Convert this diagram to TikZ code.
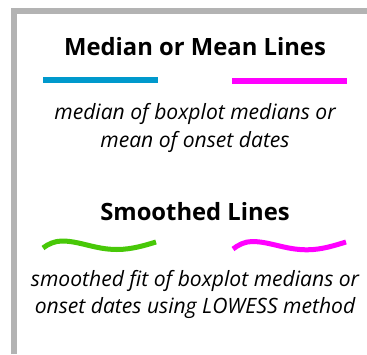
\documentclass[tikz,border=0pt]{standalone}
\usepackage{fontspec}
\setmainfont{Open Sans}
\definecolor{framegray}{RGB}{179,179,179}
\definecolor{medblue}{RGB}{0,153,204}
\definecolor{mag}{RGB}{255,0,255}
\definecolor{smgreen}{RGB}{72,200,8}
\begin{document}
\begin{tikzpicture}[x=1pt,y=-1pt,
  title/.style={anchor=base,font=\fontsize{23.8}{28}\selectfont\bfseries,inner sep=0pt},
  desc/.style={anchor=base,font=\fontsize{21.1}{25}\selectfont\itshape,inner sep=0pt},
  straight/.style={line width=6pt},
  wavy/.style={line width=5pt}]
\useasboundingbox (0,0) rectangle (367,354);
\fill[white] (0,0) rectangle (367,354);
\coordinate (fb) at (14,354);
\coordinate (fc) at (14,11);
\coordinate (fr) at (367,11);
\draw[framegray,line width=6pt,miter limit=10] (fb) -- (fc) -- (fr);
\node[title] (t1) at (195,55) {Median or Mean Lines};
\coordinate (b1) at (43,80); \coordinate (b2) at (158,80);
\draw[straight,medblue] (b1) -- (b2);
\coordinate (m1) at (232,81); \coordinate (m2) at (347,81);
\draw[straight,mag] (m1) -- (m2);
\node[desc] (d1) at (195,119) {median of boxplot medians or};
\node[desc] (d2) at (195,147) {mean of onset dates};
\node[title] (t2) at (195,220) {Smoothed Lines};
\coordinate (g0) at (43,248); \coordinate (g1) at (62,241);
\coordinate (g2) at (117,249.5); \coordinate (g3) at (156,242);
\draw[wavy,smgreen] (g0) .. controls (48,244) and (55,241) .. (g1)
  .. controls (80,241) and (95,249.5) .. (g2)
  .. controls (132,249.5) and (146,245) .. (g3);
\coordinate (h0) at (233,249); \coordinate (h1) at (252,241.5);
\coordinate (h2) at (307,249.8); \coordinate (h3) at (346,242);
\draw[wavy,mag] (h0) .. controls (238,245) and (245,241.5) .. (h1)
  .. controls (270,241.5) and (285,249.8) .. (h2)
  .. controls (322,249.8) and (336,245) .. (h3);
\node[desc] (d3) at (195,286) {smoothed fit of boxplot medians or};
\node[desc] (d4) at (195,313) {onset dates using LOWESS method};
\end{tikzpicture}
\end{document}
